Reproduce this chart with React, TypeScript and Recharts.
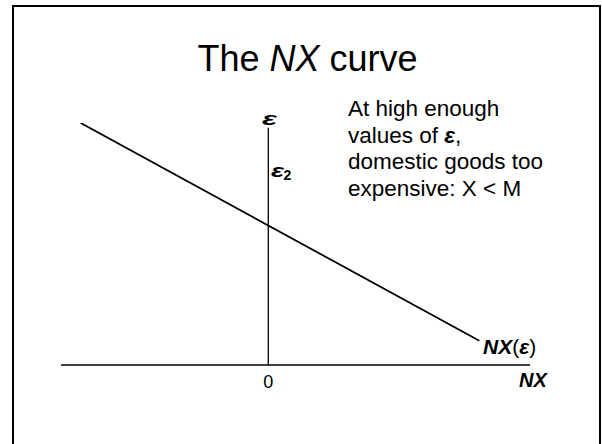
import { LineChart, Line, XAxis, YAxis, ReferenceLine } from "recharts";

// NX curve: net exports as a function of the real exchange rate
const nxValues = [-4, 4.5];
const epsValues = [10, 1];

// axis extents (horizontal axis runs past the curve on both sides)
const nxDomain = [-4.42, 5.58];
const epsDomain = [0, 10];
const epsAxisTop = 9.8;
const nxTicks = [0];

const title = ["The ", "NX", " curve"];
const noteLines = ["At high enough", "values of ", "domestic goods too", "expensive: X < M"];

const data = nxValues.map((nx, i) => ({ nx, eps: epsValues[i] }));

const font = "'Liberation Sans', Arial, sans-serif";

export default function App() {
    return (
        <div
            style={{
                position: "absolute",
                left: 0,
                top: 0,
                width: 602,
                height: 444,
                overflow: "hidden",
                background: "#fff",
            }}
        >
            <div
                style={{
                    position: "absolute",
                    left: 12,
                    top: 5,
                    width: 589,
                    height: 480,
                    border: "2px solid #000",
                    boxSizing: "border-box",
                }}
            />
            <div style={{ position: "absolute", left: 0, top: 0 }}>
                <LineChart
                    width={602}
                    height={444}
                    data={data}
                    margin={{ top: 123, right: 72, bottom: 49, left: 61 }}
                >
                    <XAxis
                        type="number"
                        dataKey="nx"
                        domain={nxDomain}
                        ticks={nxTicks}
                        allowDataOverflow
                        height={30}
                        tickLine={false}
                        tickMargin={4}
                        axisLine={{ stroke: "#000", strokeWidth: 1.3 }}
                        tick={{ fill: "#000", fontSize: 18, fontFamily: font }}
                    />
                    <YAxis type="number" domain={epsDomain} hide width={0} allowDataOverflow />
                    <ReferenceLine
                        segment={[
                            { x: 0, y: 0 },
                            { x: 0, y: epsAxisTop },
                        ]}
                        stroke="#000"
                        strokeWidth={1.3}
                    />
                    <Line
                        type="linear"
                        dataKey="eps"
                        stroke="#000"
                        strokeWidth={1.8}
                        dot={false}
                        isAnimationActive={false}
                    />
                </LineChart>
            </div>
            <svg
                width={602}
                height={444}
                style={{ position: "absolute", left: 0, top: 0 }}
                fontFamily={font}
                fill="#000"
            >
                <text x={307.5} y={71} fontSize={36} textAnchor="middle">
                    {title[0]}
                    <tspan fontStyle="italic">{title[1]}</tspan>
                    {title[2]}
                </text>

                <text
                    x={262}
                    y={125}
                    fontSize={18}
                    fontWeight="bold"
                    fontStyle="italic"
                    textLength={15}
                    lengthAdjust="spacingAndGlyphs"
                >
                    ε
                </text>
                <text
                    x={271}
                    y={177}
                    fontSize={19}
                    fontWeight="bold"
                    fontStyle="italic"
                    textLength={13}
                    lengthAdjust="spacingAndGlyphs"
                >
                    ε
                </text>
                <text x={283.5} y={180} fontSize={14} fontWeight="bold">
                    2
                </text>

                <g fontSize={22.5}>
                    <text x={348} y={116}>{noteLines[0]}</text>
                    <text x={348} y={142.5}>
                        {noteLines[1]}
                        <tspan fontWeight="bold" fontStyle="italic">ε</tspan>,
                    </text>
                    <text x={348} y={169}>{noteLines[2]}</text>
                    <text x={348} y={195.5}>{noteLines[3]}</text>
                </g>

                <text x={483} y={354} fontSize={21}>
                    <tspan fontWeight="bold" fontStyle="italic">NX</tspan>(
                    <tspan fontWeight="bold" fontStyle="italic">ε</tspan>)
                </text>
                <text x={519} y={387} fontSize={20} fontWeight="bold" fontStyle="italic">
                    NX
                </text>
            </svg>
        </div>
    );
}
